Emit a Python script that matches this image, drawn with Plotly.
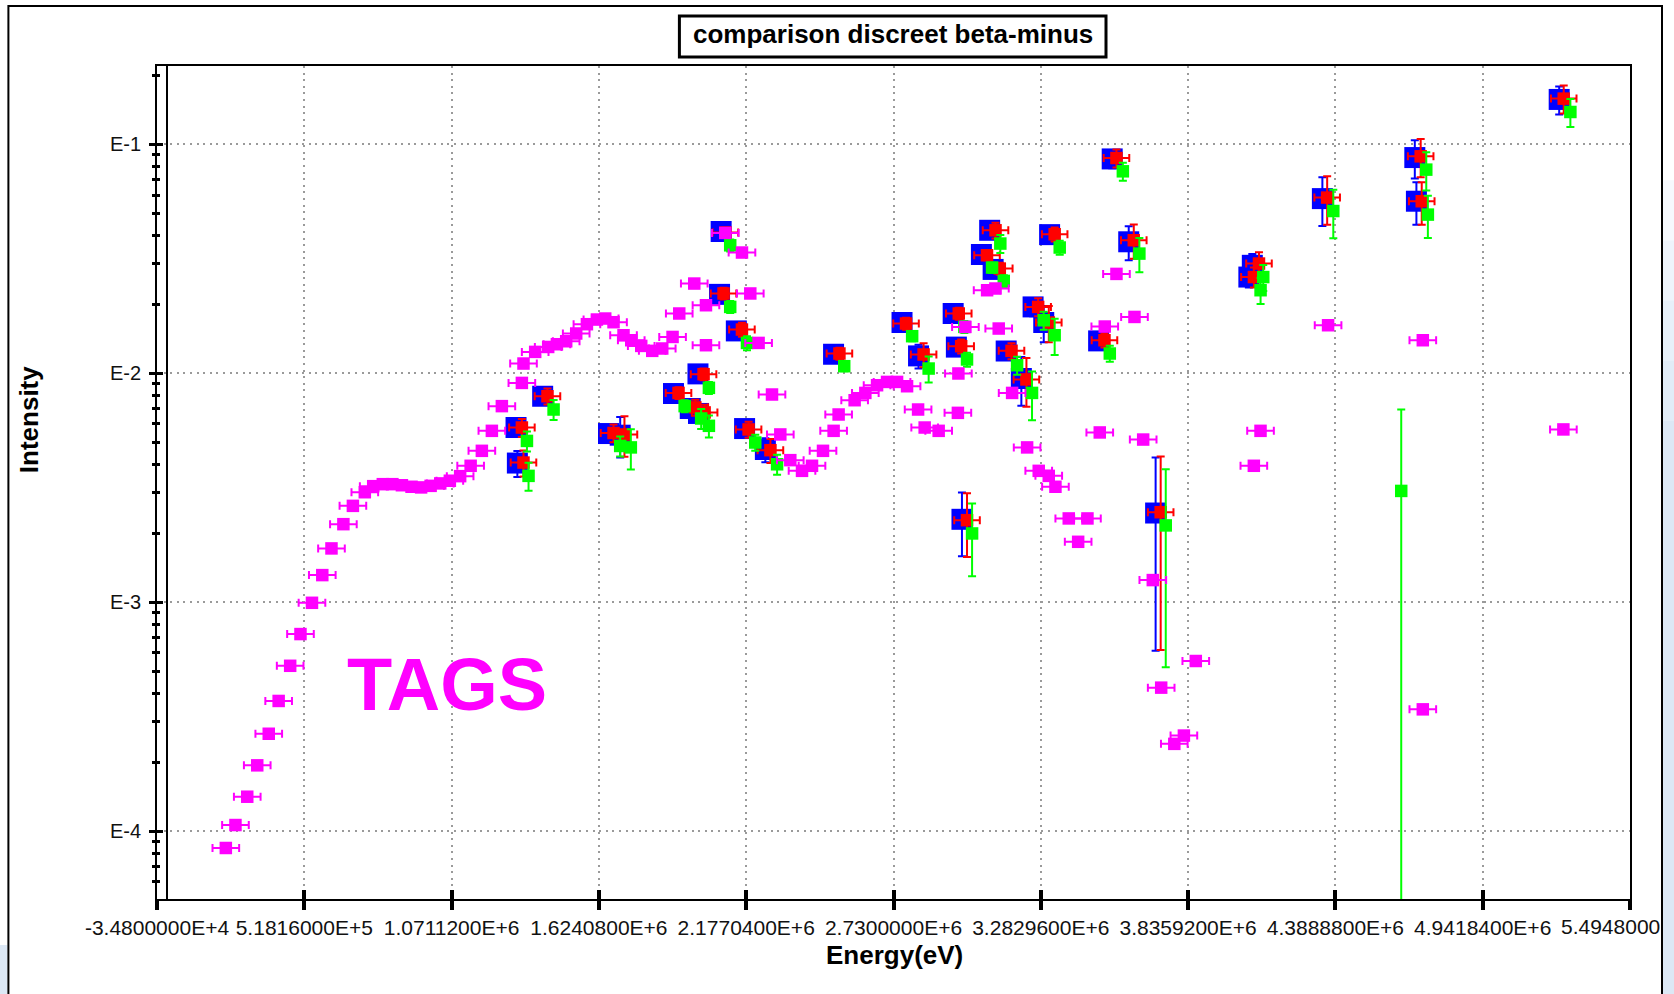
import plotly.graph_objects as go

# ---------------- data ----------------
# TAGS beta-intensity spectrum (energy in keV, intensity per bin)
tags_energy_kev = [223.6, 259.7, 304.0, 341.5, 384.7, 421.9, 465.1, 503.8, 547.0, 585.7,
                   620.2, 664.9, 700.6, 745.3, 776.8, 812.9, 848.9, 884.6, 920.7, 956.7,
                   992.4, 1028.5, 1064.5, 1103.2, 1142.6, 1184.7, 1222.3, 1259.8, 1334.9, 1341.0,
                   1384.9, 1433.7, 1466.4, 1501.3, 1538.9, 1579.1, 1616.6, 1647.8, 1679.0, 1716.5,
                   1745.5, 1783.0, 1824.3, 1861.9, 1900.6, 1925.7, 1982.1, 2026.0, 2026.0, 2098.5,
                   2161.2, 2192.4, 2223.6, 2273.9, 2305.1, 2342.6, 2386.6, 2424.1, 2465.4, 2505.2,
                   2524.0, 2584.1, 2624.3, 2668.3, 2705.8, 2743.4, 2780.9, 2822.3, 2847.0, 2899.6,
                   2973.6, 2971.7, 2999.9, 3081.4, 3112.6, 3125.0, 3175.3, 3231.6, 3275.2, 3312.8,
                   3337.9, 3387.9, 3458.1, 3423.2, 3504.3, 3523.1, 3567.0, 3634.6, 3667.3, 3703.4,
                   3734.9, 3784.1, 3820.1, 3864.8, 4082.7, 4107.8, 4361.4, 4717.0, 4717.0, 5244.7]
tags_intensity = [8.43e-5, 1.062e-4, 1.412e-4, 1.936e-4, 2.66e-4, 3.70e-4, 5.27e-4, 7.25e-4, 9.93e-4, 1.312e-3,
                  1.716e-3, 2.19e-3, 2.633e-3, 3.02e-3, 3.21e-3, 3.275e-3, 3.275e-3, 3.24e-3, 3.19e-3, 3.17e-3,
                  3.22e-3, 3.30e-3, 3.39e-3, 3.55e-3, 3.94e-3, 4.58e-3, 5.60e-3, 7.18e-3, 9.07e-3, 1.102e-2,
                  1.239e-2, 1.302e-2, 1.338e-2, 1.379e-2, 1.491e-2, 1.637e-2, 1.716e-2, 1.733e-2, 1.670e-2, 1.465e-2,
                  1.393e-2, 1.316e-2, 1.252e-2, 1.282e-2, 1.440e-2, 1.823e-2, 2.464e-2, 1.981e-2, 1.325e-2, 4.10e-2,
                  3.366e-2, 2.23e-2, 1.356e-2, 8.07e-3, 5.40e-3, 4.17e-3, 3.745e-3, 3.94e-3, 4.58e-3, 5.60e-3,
                  6.60e-3, 7.62e-3, 8.20e-3, 8.86e-3, 9.16e-3, 9.16e-3, 8.77e-3, 6.94e-3, 5.79e-3, 5.60e-3,
                  9.97e-3, 6.71e-3, 1.593e-2, 2.304e-2, 2.344e-2, 1.567e-2, 8.20e-3, 4.74e-3, 3.745e-3, 3.56e-3,
                  3.19e-3, 2.32e-3, 2.32e-3, 1.834e-3, 5.51e-3, 1.599e-2, 2.715e-2, 1.761e-2, 5.13e-3, 1.248e-3,
                  4.23e-4, 2.403e-4, 2.612e-4, 5.53e-4, 3.94e-3, 5.60e-3, 1.620e-2, 1.393e-2, 3.40e-4, 5.68e-3]
tags_half_bin_kev = 50

# discrete beta-minus feedings, evaluation 1 (blue)
blue_energy_kev = [1313, 1318, 1413, 1660, 1704, 1904, 1967, 1998, 1996, 2083,
                   2077, 2140, 2171, 2249, 2505, 2762, 2824, 2954, 2966, 2987,
                   3060, 3091, 3104, 3153, 3210, 3254, 3294, 3316, 3500, 3551,
                   3613, 3714, 4064, 4077, 4340, 4687, 4693, 5229]
blue_intensity = [5.79e-3, 4.05e-3, 7.93e-3, 5.45e-3, 5.36e-3, 8.15e-3, 7.01e-3, 6.67e-3, 9.93e-3, 4.16e-2,
                  2.21e-2, 1.53e-2, 5.73e-3, 4.64e-3, 1.21e-2, 1.665e-2, 1.19e-2, 1.823e-2, 1.30e-2, 2.30e-3,
                  3.30e-2, 4.21e-2, 2.84e-2, 1.25e-2, 9.48e-3, 1.948e-2, 1.665e-2, 4.03e-2, 1.384e-2, 8.63e-2,
                  3.75e-2, 2.45e-3, 2.63e-2, 2.96e-2, 5.79e-2, 8.75e-2, 5.64e-2, 0.157]
blue_rel_err = [0.09, 0.13, 0.08, 0.09, 0.20, 0.06, 0.08, 0.08, 0.06, 0.05,
                0.06, 0.07, 0.08, 0.12, 0.06, 0.06, 0.12, 0.06, 0.07, 0.31,
                0.05, 0.08, 0.06, 0.08, 0.24, 0.09, 0.18, 0.07, 0.07, 0.09,
                0.17, 0.75, 0.10, 0.12, 0.24, 0.19, 0.21, 0.14]

# evaluation 2 (red)
red_energy_kev = [1335, 1341, 1431, 1679, 1720, 1923, 1986, 2021, 2017, 2099,
                  2092, 2161, 2186, 2268, 2527, 2777, 2843, 2975, 2984, 3006,
                  3081, 3113, 3129, 3173, 3229, 3273, 3313, 3335, 3522, 3567,
                  3632, 3733, 4083, 4102, 4358, 4709, 4713, 5246]
red_intensity = [5.79e-3, 4.07e-3, 7.93e-3, 5.48e-3, 5.40e-3, 8.20e-3, 7.09e-3, 6.74e-3, 9.90e-3, 4.115e-2,
                 2.23e-2, 1.551e-2, 5.68e-3, 4.61e-3, 1.219e-2, 1.648e-2, 1.207e-2, 1.823e-2, 1.312e-2, 2.28e-3,
                 3.276e-2, 4.21e-2, 2.865e-2, 1.252e-2, 9.39e-3, 1.948e-2, 1.665e-2, 4.046e-2, 1.393e-2, 8.71e-2,
                 3.81e-2, 2.47e-3, 2.63e-2, 3.013e-2, 5.85e-2, 8.86e-2, 5.64e-2, 0.1583]
red_rel_err = [0.09, 0.13, 0.08, 0.09, 0.20, 0.06, 0.08, 0.08, 0.06, 0.05,
               0.06, 0.07, 0.08, 0.12, 0.06, 0.06, 0.12, 0.06, 0.07, 0.31,
               0.05, 0.08, 0.06, 0.08, 0.24, 0.09, 0.18, 0.07, 0.07, 0.09,
               0.17, 0.75, 0.10, 0.12, 0.24, 0.19, 0.21, 0.14]
red_half_width_kev = 48

# evaluation 3 (green)
green_energy_kev = [1354, 1360, 1454, 1704, 1744, 1946, 2008, 2037, 2037, 2117,
                    2117, 2180, 2211, 2293, 2545, 2800, 2862, 2996, 3006, 3025,
                    3100, 3131, 3144, 3194, 3250, 3294, 3335, 3354, 3542, 3591,
                    3653, 3752, 4108, 4118, 4381, 4636, 4730, 4736, 5271]
green_intensity = [5.06e-3, 3.56e-3, 6.94e-3, 4.81e-3, 4.74e-3, 7.18e-3, 6.34e-3, 5.89e-3, 8.63e-3, 3.62e-2,
                   1.948e-2, 1.356e-2, 4.98e-3, 4.00e-3, 1.073e-2, 1.451e-2, 1.048e-2, 1.593e-2, 1.148e-2, 1.995e-3,
                   2.894e-2, 3.684e-2, 2.53e-2, 1.083e-2, 8.20e-3, 1.703e-2, 1.465e-2, 3.54e-2, 1.219e-2, 7.62e-2,
                   3.33e-2, 2.163e-3, 2.304e-2, 2.63e-2, 5.11e-2, 3.06e-3, 7.75e-2, 4.93e-2, 0.1384]
green_rel_err = [0.10, 0.14, 0.10, 0.10, 0.20, 0.06, 0.10, 0.11, 0.06, 0.06,
                 0.06, 0.07, 0.08, 0.10, 0.05, 0.05, 0.13, 0.06, 0.07, 0.35,
                 0.05, 0.09, 0.06, 0.09, 0.24, 0.09, 0.18, 0.07, 0.08, 0.09,
                 0.17, 0.76, 0.13, 0.13, 0.24, 1.27, 0.19, 0.21, 0.14]

# axis ticks (the last label is written separately, clipped by the window edge)
x_tick_values = [-34800, 518160, 1071120, 1624080, 2177040, 2730000,
                 3282960, 3835920, 4388880, 4941840, 5494800]
x_tick_labels = ["-3.4800000E+4", "5.1816000E+5", "1.0711200E+6", "1.6240800E+6",
                 "2.1770400E+6", "2.7300000E+6", "3.2829600E+6", "3.8359200E+6",
                 "4.3888800E+6", "4.9418400E+6", ""]
x_last_label = "5.4948000"
y_tick_values = [1e-4, 1e-3, 1e-2, 1e-1]
y_tick_labels = ["E-4", "E-3", "E-2", "E-1"]
y_minor_values = [m * 10.0 ** k for k in range(-5, 0) for m in range(2, 10)]

# ---------------- geometry ----------------
W, H = 1674, 994
PL, PR, PT, PB = 157, 1630, 65.7, 899      # plot area in pixels
X_RANGE = [-34800, 5494800]
Y_RANGE = [-4.297, -0.658]                  # log10


def fx(px):
    return (px - PL) / (PR - PL)


def fy(py):
    return (PB - py) / (PB - PT)


FONT = "Liberation Sans, Arial, sans-serif"
MAGENTA, BLUE, RED, GREEN = "#ff00ff", "#0000ff", "#ff0000", "#00ff00"


def ev(values_kev):
    return [v * 1000.0 for v in values_kev]


def abs_err(values, rel):
    return [v * r for v, r in zip(values, rel)]


fig = go.Figure()

fig.add_trace(go.Scatter(
    x=ev(blue_energy_kev), y=blue_intensity, mode="markers",
    marker=dict(symbol="square", size=21, color=BLUE, line=dict(width=0)),
    error_y=dict(type="data", array=abs_err(blue_intensity, blue_rel_err),
                 color=BLUE, thickness=2, width=4),
    showlegend=False, hoverinfo="x+y"))

fig.add_trace(go.Scatter(
    x=ev(red_energy_kev), y=red_intensity, mode="markers",
    marker=dict(symbol="square", size=12.5, color=RED, line=dict(width=0)),
    error_y=dict(type="data", array=abs_err(red_intensity, red_rel_err),
                 color=RED, thickness=2, width=4),
    error_x=dict(type="constant", value=red_half_width_kev * 1000.0,
                 color=RED, thickness=2, width=4),
    showlegend=False, hoverinfo="x+y"))

fig.add_trace(go.Scatter(
    x=ev(green_energy_kev), y=green_intensity, mode="markers",
    marker=dict(symbol="square", size=12.5, color=GREEN, line=dict(width=0)),
    error_y=dict(type="data", array=abs_err(green_intensity, green_rel_err),
                 color=GREEN, thickness=2, width=4),
    showlegend=False, hoverinfo="x+y"))

fig.add_trace(go.Scatter(
    x=ev(tags_energy_kev), y=tags_intensity, mode="markers",
    marker=dict(symbol="square", size=12.5, color=MAGENTA, line=dict(width=0)),
    error_x=dict(type="constant", value=tags_half_bin_kev * 1000.0,
                 color=MAGENTA, thickness=2, width=4),
    showlegend=False, hoverinfo="x+y"))

# empty trace that carries the inward-pointing tick axes
fig.add_trace(go.Scatter(x=[None], y=[None], xaxis="x2", yaxis="y2",
                         showlegend=False, hoverinfo="skip"))

grid = dict(showgrid=True, gridcolor="#9a9a9a", gridwidth=2, griddash="2px,4.6px")

fig.update_layout(
    width=W, height=H, autosize=False,
    margin=dict(l=PL, r=W - PR, t=PT, b=H - PB, pad=0, autoexpand=False),
    paper_bgcolor="white", plot_bgcolor="white",
    font=dict(family=FONT, color="#111111"),
    xaxis=dict(range=X_RANGE, tickmode="array", tickvals=x_tick_values, ticktext=x_tick_labels,
               ticks="outside", ticklen=9, tickwidth=3.5, tickcolor="black",
               automargin=False,
               tickfont=dict(family=FONT, size=21, color="#111111"),
               showline=True, linecolor="black", linewidth=2, mirror=True,
               zeroline=False, **grid),
    yaxis=dict(type="log", range=Y_RANGE, tickmode="array", tickvals=y_tick_values,
               ticktext=y_tick_labels, ticks="outside", ticklen=6, tickwidth=2.7,
               tickcolor="black", ticklabelstandoff=4, automargin=False,
               tickfont=dict(family=FONT, size=20, color="#111111"),
               minor=dict(tickmode="array", tickvals=y_minor_values, ticks="outside",
                          ticklen=3, tickwidth=2.5, tickcolor="black", showgrid=False),
               showline=True, linecolor="black", linewidth=2, mirror=True,
               zeroline=False, **grid),
    xaxis2=dict(overlaying="x", anchor="y", side="bottom", range=X_RANGE,
                tickmode="array", tickvals=x_tick_values, ticks="inside", ticklen=9,
                tickwidth=3.5, tickcolor="black", showticklabels=False, automargin=False,
                showgrid=False, showline=False, zeroline=False),
    yaxis2=dict(overlaying="y", anchor="x", side="left", type="log", range=Y_RANGE,
                tickmode="array", tickvals=y_tick_values, ticks="inside", ticklen=6,
                tickwidth=2.7, tickcolor="black", showticklabels=False, automargin=False,
                minor=dict(tickmode="array", tickvals=y_minor_values, ticks="inside",
                           ticklen=3, tickwidth=2.5, tickcolor="black", showgrid=False),
                showgrid=False, showline=False, zeroline=False),
)

shapes = []
# light-blue window background outside the chart frame
strip_colors = ["#ffffff", "#f6f9fd", "#eef4fb", "#e7f0f9", "#e1ecf7", "#dce8f5"]
for i, c in enumerate(strip_colors):
    y0 = 120 + i * 60
    y1 = 1000 if i == len(strip_colors) - 1 else y0 + 60
    shapes.append(dict(type="rect", xref="paper", yref="paper", layer="above",
                       x0=fx(1663), x1=fx(1700), y0=fy(y1), y1=fy(y0),
                       fillcolor=c, line=dict(width=0)))
shapes.append(dict(type="rect", xref="paper", yref="paper", layer="above",
                   x0=fx(1663), x1=fx(1700), y0=fy(120), y1=fy(-10),
                   fillcolor="white", line=dict(width=0)))
shapes.append(dict(type="rect", xref="paper", yref="paper", layer="above",
                   x0=fx(-10), x1=fx(7.4), y0=fy(1000), y1=fy(945),
                   fillcolor="#dce8f5", line=dict(width=0)))
# outer chart frame
shapes.append(dict(type="rect", xref="paper", yref="paper", layer="above",
                   x0=fx(8.4), x1=fx(1662), y0=fy(1010), y1=fy(5.7),
                   line=dict(color="black", width=2), fillcolor="rgba(0,0,0,0)"))
# inner left border of the plotting frame
shapes.append(dict(type="line", xref="paper", yref="paper", layer="above",
                   x0=fx(167), x1=fx(167), y0=0, y1=1,
                   line=dict(color="black", width=2)))
# title box
shapes.append(dict(type="rect", xref="paper", yref="paper", layer="above",
                   x0=fx(679.4), x1=fx(1106), y0=fy(56.7), y1=fy(15.7),
                   line=dict(color="black", width=3), fillcolor="white"))
fig.update_layout(shapes=shapes)

fig.add_annotation(text="comparison discreet beta-minus", xref="paper", yref="paper",
                   x=fx(892.7), y=fy(33.5), xanchor="center", yanchor="middle", showarrow=False,
                   font=dict(family=FONT, size=26, color="black", weight="bold"))
fig.add_annotation(text="Intensity", xref="paper", yref="paper",
                   x=fx(29), y=fy(420), xanchor="center", yanchor="middle", showarrow=False,
                   textangle=-90, font=dict(family=FONT, size=26, color="black", weight="bold"))
fig.add_annotation(text="Energy(eV)", xref="paper", yref="paper",
                   x=fx(894), y=fy(955), xanchor="center", yanchor="middle", showarrow=False,
                   font=dict(family=FONT, size=26, color="black", weight="bold"))
fig.add_annotation(text="TAGS", xref="paper", yref="paper",
                   x=fx(447), y=fy(684.5), xanchor="center", yanchor="middle", showarrow=False,
                   font=dict(family=FONT, size=74, color=MAGENTA, weight="bold"))
# last x tick label, ending at the window frame
fig.add_annotation(text=x_last_label, xref="paper", yref="paper",
                   x=fx(1661), y=fy(926.5), xanchor="right", yanchor="middle", showarrow=False,
                   borderpad=0, font=dict(family=FONT, size=21, color="#111111"))

fig.write_html("out.html")
